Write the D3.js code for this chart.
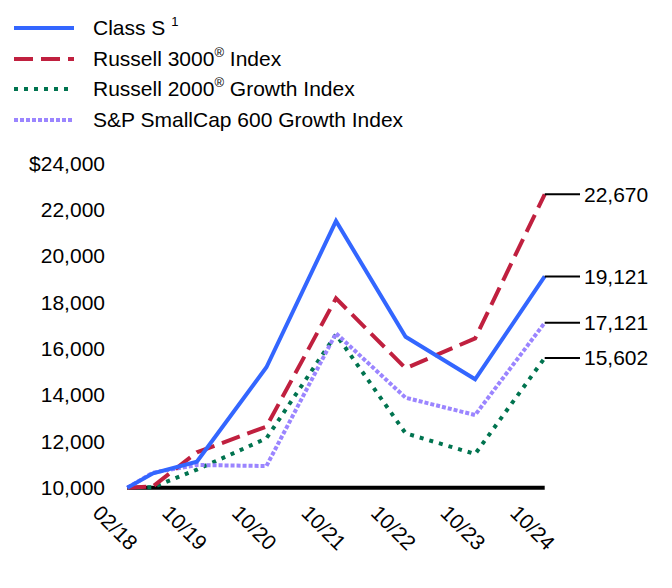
<!DOCTYPE html>
<html><head><meta charset="utf-8">
<script src="https://cdn.jsdelivr.net/npm/d3@7"></script>
<style>body{margin:0;background:#fff}svg{display:block}text{font-family:"Liberation Sans",Arial,sans-serif;fill:#000}</style>
</head><body><svg id="c" width="672" height="588"></svg>
<script>
const periods = [0, 0.37, 1, 2, 3, 4, 5, 6];
const tickPeriods = [0, 1, 2, 3, 4, 5, 6];
const tickLabels = ["02/18", "10/19", "10/20", "10/21", "10/22", "10/23", "10/24"];
const yTicks = [10000, 12000, 14000, 16000, 18000, 20000, 22000, 24000];
const classS = [10000, 10622, 11123, 15199, 21515, 16520, 14680, 19121];
const russell3000 = [10000, 10060, 11530, 12640, 18178, 15155, 16450, 22670];
const russell2000G = [10000, 10020, 10780, 12130, 16620, 12350, 11455, 15602];
const sp600G = [10000, 10650, 10980, 10937, 16667, 13886, 13139, 17121];
const seriesNames = ["Class S", "Russell 3000", "Russell 2000", "S&P SmallCap 600 Growth Index"];

const FS = 21;
const svg = d3.select("#c");
const x = d3.scaleLinear().domain([0, 6]).range([127.3, 544.7]);
const y = d3.scaleLinear().domain([10000, 24000]).range([487.7, 163.5]);

const styles = [
  {data: classS, color: "#3366ff", width: 4, dash: null},
  {data: russell3000, color: "#c0203f", width: 4, dash: "19,8"},
  {data: russell2000G, color: "#00734f", width: 4, dash: "4,6"},
  {data: sp600G, color: "#9b85ff", width: 4, dash: "4,2"}
];

svg.append("g").selectAll("text").data(yTicks).join("text")
  .attr("x", 105).attr("y", d => y(d)).attr("dy", "0.35em")
  .attr("text-anchor", "end").attr("font-size", FS)
  .text((d, i) => (i === yTicks.length - 1 ? "$" : "") + d3.format(",")(d));

svg.append("line").attr("x1", x(0)).attr("x2", x(6))
  .attr("y1", y(10000)).attr("y2", y(10000))
  .attr("stroke", "#000").attr("stroke-width", 4);

svg.append("g").selectAll("text").data(tickPeriods).join("text")
  .attr("transform", (d) => `translate(${x(d) - 12},${y(10000) + 40}) rotate(45)`)
  .attr("text-anchor", "middle").attr("dy", "0.35em").attr("font-size", FS)
  .text((d, i) => tickLabels[i]);

const line = d3.line().x((d, i) => x(periods[i])).y(d => y(d));
[2, 3, 1, 0].forEach(k => {
  const s = styles[k];
  svg.append("path").datum(s.data).attr("d", line)
    .attr("fill", "none").attr("stroke", s.color).attr("stroke-width", s.width)
    .attr("stroke-dasharray", s.dash).attr("stroke-linejoin", "miter");
});

styles.forEach(s => {
  const v = s.data[s.data.length - 1];
  svg.append("line").attr("x1", x(6)).attr("x2", 580)
    .attr("y1", y(v)).attr("y2", y(v)).attr("stroke", "#000").attr("stroke-width", 2);
  svg.append("text").attr("x", 584).attr("y", y(v)).attr("dy", "0.35em")
    .attr("font-size", FS).text(d3.format(",")(v));
});

const legendY = [28, 59, 89, 120];
styles.forEach((s, i) => {
  svg.append("line").attr("x1", 14).attr("x2", 74).attr("y1", legendY[i]).attr("y2", legendY[i])
    .attr("stroke", s.color).attr("stroke-width", 4).attr("stroke-dasharray", s.dash);
});
const lt = svg.append("g").attr("font-size", FS);
function legText(i, parts) {
  const t = lt.append("text").attr("x", 93).attr("y", legendY[i] + 7);
  parts.forEach(p => {
    const ts = t.append("tspan").text(p.t);
    if (p.sup) ts.attr("font-size", 13).attr("y", legendY[i] - 2);
    else ts.attr("y", legendY[i] + 7);
  });
}
legText(0, [{t: "Class S "}, {t: "1", sup: true}]);
legText(1, [{t: "Russell 3000"}, {t: "®", sup: true}, {t: " Index"}]);
legText(2, [{t: "Russell 2000"}, {t: "®", sup: true}, {t: " Growth Index"}]);
legText(3, [{t: seriesNames[3]}]);
</script></body></html>
